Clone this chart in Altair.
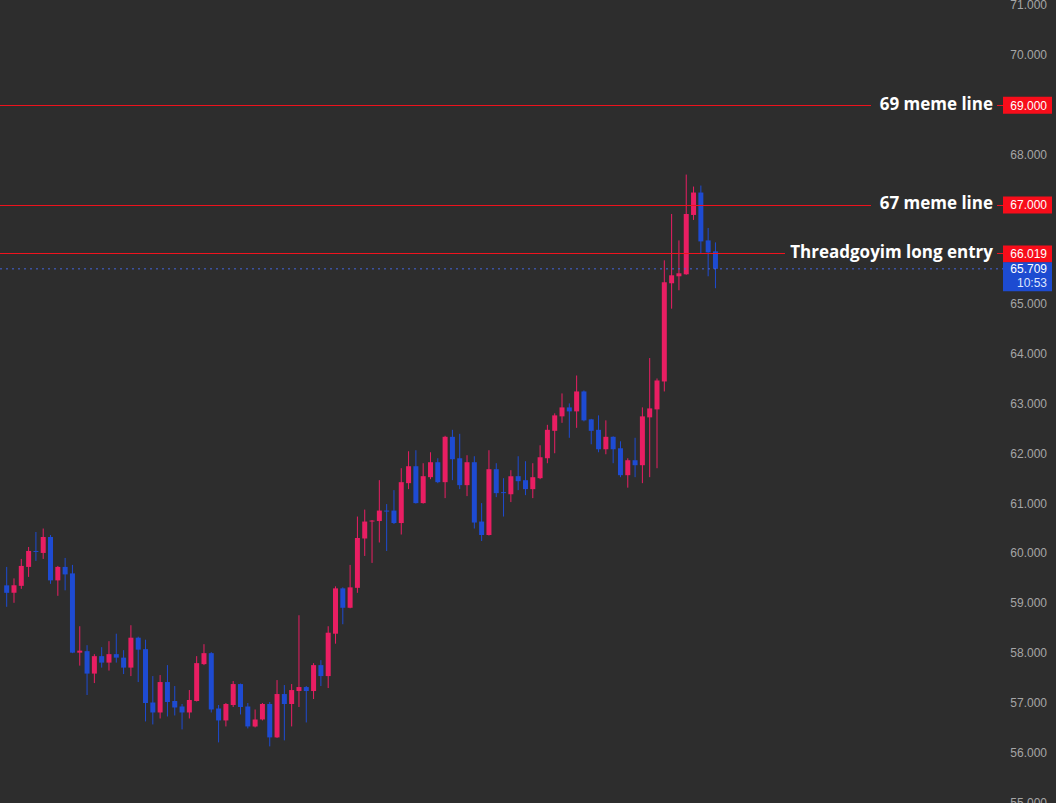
import altair as alt
import pandas as pd

# ---- data ----
opens = [59.36, 59.21, 59.35, 59.73, 60.05, 60.01, 60.33, 59.46, 59.73, 59.60,
         58.01, 58.04, 57.59, 57.94, 57.81, 57.98, 57.91, 57.71, 58.31, 58.08,
         57.01, 56.81, 57.42, 57.04, 56.93, 56.81, 57.04, 57.78, 58.00, 56.89,
         56.65, 56.96, 57.38, 56.93, 56.53, 56.67, 56.98, 56.31, 57.18, 56.98,
         57.24, 57.32, 57.24, 57.76, 57.54, 58.39, 59.30, 58.91, 59.31, 60.30,
         60.64, 60.65, 60.86, 60.86, 60.61, 61.41, 61.75, 61.01, 61.53, 61.83,
         61.43, 62.34, 61.91, 61.37, 61.83, 60.64, 60.37, 61.69, 61.23, 61.19,
         61.55, 61.47, 61.29, 61.51, 61.91, 62.46, 62.75, 62.93, 62.85, 63.25,
         62.69, 62.48, 62.09, 62.34, 62.11, 61.57, 61.87, 61.77, 62.73, 62.89,
         63.45, 65.42, 65.56, 65.60, 66.79, 67.24, 66.28, 66.06]
highs = [59.73, 59.50, 59.89, 60.13, 60.43, 60.50, 60.37, 59.75, 59.91, 59.77,
         58.54, 58.16, 57.98, 58.12, 58.24, 58.39, 58.06, 58.56, 58.33, 58.27,
         57.54, 57.56, 57.76, 57.34, 56.98, 57.26, 57.94, 58.18, 58.02, 56.96,
         57.00, 57.44, 57.39, 57.00, 56.87, 57.00, 57.02, 57.46, 57.36, 57.38,
         58.76, 57.34, 57.80, 57.86, 58.54, 59.34, 59.32, 59.77, 60.74, 60.88,
         60.67, 61.47, 60.99, 61.27, 61.71, 62.05, 62.07, 61.81, 62.03, 61.91,
         62.36, 62.48, 62.40, 61.97, 61.95, 61.01, 62.07, 61.81, 61.51, 61.67,
         61.95, 61.85, 61.81, 62.17, 62.58, 62.81, 63.21, 63.01, 63.57, 63.27,
         62.70, 62.77, 62.67, 62.35, 62.25, 61.91, 62.32, 62.93, 63.92, 63.51,
         65.88, 66.81, 66.28, 67.60, 67.36, 67.38, 66.53, 66.24]
lows = [58.93, 59.01, 59.29, 59.53, 59.85, 59.89, 59.39, 59.15, 59.26, 58.00,
        57.75, 57.16, 57.40, 57.71, 57.65, 57.81, 57.58, 57.54, 57.42, 56.63,
        56.57, 56.69, 56.73, 56.75, 56.47, 56.69, 57.03, 57.76, 56.81, 56.21,
        56.53, 56.92, 56.77, 56.49, 56.51, 56.65, 56.13, 56.30, 56.25, 56.53,
        56.92, 56.61, 57.08, 57.34, 57.30, 58.19, 58.58, 58.90, 59.21, 59.95,
        59.81, 60.22, 60.05, 60.59, 60.38, 61.29, 61.00, 61.00, 61.49, 61.41,
        61.11, 61.47, 61.29, 61.15, 60.50, 60.25, 60.36, 61.13, 60.74, 61.03,
        61.27, 61.17, 61.11, 61.49, 61.81, 62.01, 62.62, 62.32, 62.52, 62.65,
        62.19, 62.03, 61.99, 61.81, 61.53, 61.32, 61.53, 61.41, 61.53, 61.71,
        63.25, 64.91, 65.28, 65.59, 66.69, 66.02, 65.56, 65.32]
closes = [59.21, 59.36, 59.75, 60.05, 60.03, 60.33, 59.46, 59.73, 59.58, 58.01,
          58.05, 57.59, 57.94, 57.81, 57.98, 57.91, 57.71, 58.31, 58.07, 57.00,
          56.81, 57.42, 57.02, 56.91, 56.81, 57.06, 57.80, 58.00, 56.87, 56.65,
          56.98, 57.38, 56.92, 56.53, 56.67, 56.98, 56.31, 57.18, 56.98, 57.26,
          57.32, 57.24, 57.76, 57.54, 58.41, 59.30, 58.91, 59.32, 60.31, 60.64,
          60.66, 60.86, 60.84, 60.61, 61.43, 61.75, 61.01, 61.55, 61.83, 61.43,
          62.34, 61.89, 61.37, 61.83, 60.62, 60.37, 61.69, 61.21, 61.21, 61.55,
          61.45, 61.29, 61.53, 61.93, 62.48, 62.77, 62.93, 62.85, 63.25, 62.67,
          62.46, 62.09, 62.34, 62.09, 61.57, 61.87, 61.77, 62.75, 62.91, 63.47,
          65.44, 65.58, 65.62, 66.81, 67.24, 66.26, 66.04, 65.709]

level_values = [69.0, 67.0, 66.019]
level_labels = ["69 meme line", "67 meme line", "Threadgoyim long entry"]
last_price = 65.709
countdown = "10:53"
tick_values = list(range(55, 72))

# ---- styles ----
BG = "#2d2d2d"
UP = "#e91e63"
DOWN = "#1e4bd2"
LEVEL = "#f0131e"
level_line_end = [871, 871, 785]
level_pixel_nudge = [0.7, 1.0, 0.1]

df = pd.DataFrame({"i": range(len(opens)), "open": opens, "high": highs,
                   "low": lows, "close": closes})
df["dir"] = ["up" if c >= o else "down" for o, c in zip(opens, closes)]

xs = alt.Scale(domain=[-0.2304, 142.92], nice=False, zero=False)
ys = alt.Scale(domain=[54.994, 71.1023], nice=False, zero=False)
col = alt.Color("dir:N", scale=alt.Scale(domain=["up", "down"], range=[UP, DOWN]), legend=None)

base = alt.Chart(df)
wicks = base.mark_rule(strokeWidth=1).encode(
    x=alt.X("i:Q", scale=xs, axis=None),
    y=alt.Y("low:Q", scale=ys, axis=None),
    y2="high:Q", color=col)
bodies = base.mark_bar(size=5, stroke=None).encode(
    x=alt.X("i:Q", scale=xs, axis=None),
    y=alt.Y("open:Q", scale=ys, axis=None),
    y2="close:Q", color=col)

layers = [wicks, bodies]

lv = pd.DataFrame({"value": level_values, "label": level_labels})
for k in range(len(level_values)):
    d = lv.iloc[[k]]
    layers.append(alt.Chart(d).mark_rule(color=LEVEL, strokeWidth=1,
                                         yOffset=level_pixel_nudge[k]).encode(
        x=alt.value(0), x2=alt.value(level_line_end[k]),
        y=alt.Y("value:Q", scale=ys, axis=None)))
    layers.append(alt.Chart(d).mark_rule(color=LEVEL, strokeWidth=1,
                                         yOffset=level_pixel_nudge[k]).encode(
        x=alt.value(997), x2=alt.value(1003), y=alt.Y("value:Q", scale=ys, axis=None)))
layers.append(alt.Chart(lv).mark_text(align="right", baseline="middle", font="Open Sans",
                                      fontWeight="bold", fontSize=17, color="#ffffff").encode(
    x=alt.value(993), y=alt.Y("value:Q", scale=ys, axis=None), text="label:N"))

lp = pd.DataFrame({"value": [last_price], "txt": [f"{last_price:.3f}"], "cd": [countdown]})
layers.append(alt.Chart(lp).mark_rule(color="#4466dd", strokeWidth=1, strokeDash=[2, 4]).encode(
    x=alt.value(0), x2=alt.value(1003), y=alt.Y("value:Q", scale=ys, axis=None)))

tk = pd.DataFrame({"v": tick_values, "t": [f"{v:.3f}" for v in tick_values]})
layers.append(alt.Chart(tk).mark_text(align="right", baseline="middle", font="Liberation Sans",
                                      fontSize=12, color="#a6a6a6").encode(
    x=alt.value(1047), y=alt.Y("v:Q", scale=ys, axis=None), text="t:N"))

lv["txt"] = [f"{v:.3f}" for v in level_values]
layers.append(alt.Chart(lv).mark_rect(color="#f70d1a", yOffset=-8.0, y2Offset=9.0).encode(
    x=alt.value(1003), x2=alt.value(1052),
    y=alt.Y("value:Q", scale=ys, axis=None), y2="value:Q"))
layers.append(alt.Chart(lv).mark_text(align="right", baseline="middle", font="Liberation Sans",
                                      fontSize=12, color="#ffffff", yOffset=0.8).encode(
    x=alt.value(1047), y=alt.Y("value:Q", scale=ys, axis=None), text="txt:N"))

layers.append(alt.Chart(lp).mark_rect(color="#1d4bd1", yOffset=-6.5, y2Offset=22.5).encode(
    x=alt.value(1003), x2=alt.value(1052),
    y=alt.Y("value:Q", scale=ys, axis=None), y2="value:Q"))
layers.append(alt.Chart(lp).mark_text(align="right", baseline="middle", font="Liberation Sans",
                                      fontSize=12, color="#ffffff", yOffset=0.5).encode(
    x=alt.value(1047), y=alt.Y("value:Q", scale=ys, axis=None), text="txt:N"))
layers.append(alt.Chart(lp).mark_text(align="right", baseline="middle", font="Liberation Sans",
                                      fontSize=12, color="#dfe5ff", yOffset=14.0).encode(
    x=alt.value(1047), y=alt.Y("value:Q", scale=ys, axis=None), text="cd:N"))

chart = alt.layer(*layers).properties(
    width=1056, height=803, background=BG, padding=0,
    autosize=alt.AutoSizeParams(type="none")
).configure_view(stroke=None, fill=BG)

chart.save("out.html", embed_options={"renderer": "svg", "actions": False})
